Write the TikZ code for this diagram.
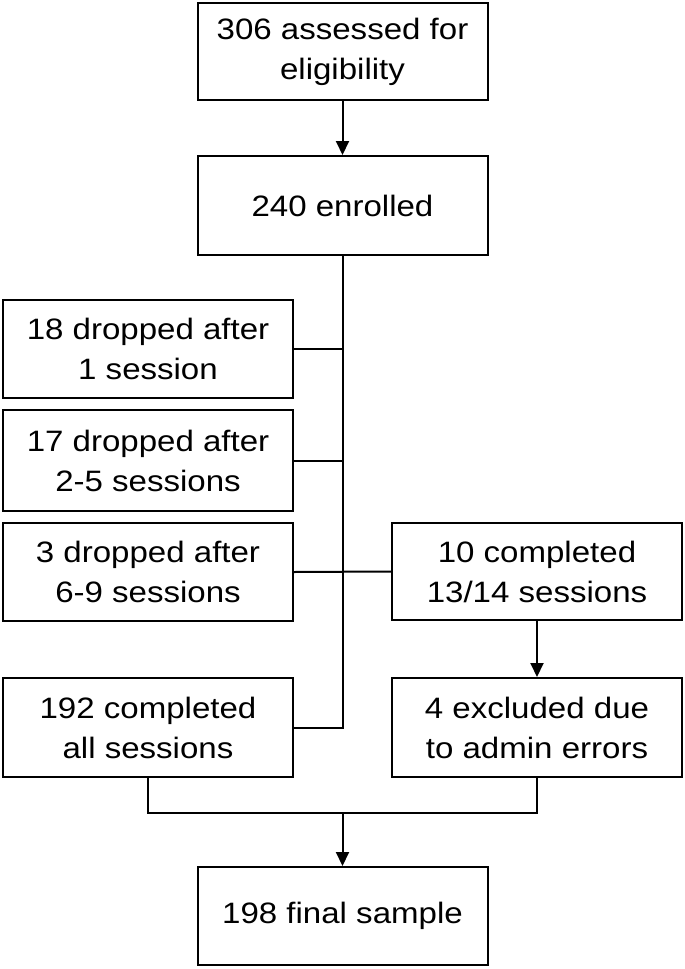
\documentclass[tikz,border=0pt]{standalone}
\usepackage{fontspec}
\setmainfont{Liberation Sans}[FakeStretch=1.12]
\usetikzlibrary{arrows.meta}
\begin{document}
\begin{tikzpicture}[x=1pt,y=-1pt,
  box/.style={draw=black, line width=2pt, minimum width=290pt, align=center,
    font=\fontsize{29.5}{40}\selectfont, inner sep=0pt},
  conn/.style={line width=2pt},
  arr/.style={line width=2pt, -{Triangle[length=14pt,width=13pt]}}]
\useasboundingbox (0,0) rectangle (685,969);
\node[box, minimum height=97pt] (b1) at (342.5,51.5) {306 assessed for\\eligibility};
\node[box, minimum height=99pt] (b2) at (342.5,205.5) {240 enrolled};
\node[box, minimum height=98pt] (b3) at (148,349) {18 dropped after\\1 session};
\node[box, minimum height=101pt] (b4) at (148,460.5) {17 dropped after\\2-5 sessions};
\node[box, minimum height=98pt] (b5) at (148,572) {3 dropped after\\6-9 sessions};
\node[box, minimum height=97pt] (b6) at (537,571.5) {10 completed\\13/14 sessions};
\node[box, minimum height=99pt] (b7) at (537,727.5) {4 excluded due\\to admin errors};
\node[box, minimum height=99pt] (b8) at (148,727.5) {192 completed\\all sessions};
\node[box, minimum height=98pt] (b9) at (342.5,916) {198 final sample};
\coordinate (m) at (342.5,813);
\draw[arr] (b1) -- (b2);
\draw[conn] (b2.south) -- (b2.south |- b8.east) -- (b8.east);
\draw[conn] (b3.east) -- (b2.south |- b3.east);
\draw[conn] (b4.east) -- (b2.south |- b4.east);
\draw[conn] (b5.east) -- (b6.west);
\draw[arr] (b6) -- (b7);
\draw[conn] (b8.south) -- (b8.south |- m) -- (b7.south |- m) -- (b7.south);
\draw[arr] (m) -- (b9);
\end{tikzpicture}
\end{document}
